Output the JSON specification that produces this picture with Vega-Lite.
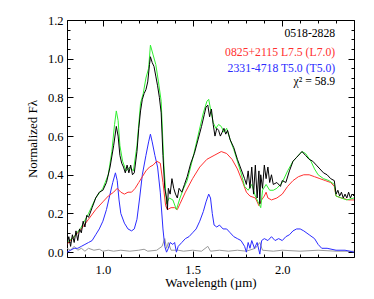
{
"$schema":"https://vega.github.io/schema/vega-lite/v6.json",
"width":287,"height":237,
"autosize":"none",
"padding":{"left":67,"top":20,"right":20,"bottom":42},
"config":{"view":{"stroke":"#000","strokeWidth":1},"font":"Liberation Serif"},
"datasets":{
"noise":[{"w":0.80,"f":0.02},{"w":0.82,"f":0.01},{"w":0.84,"f":0.03},{"w":0.86,"f":0.01},{"w":0.88,"f":0.02},{"w":0.90,"f":0.005},{"w":0.92,"f":0.02},{"w":0.95,"f":0.01},{"w":0.98,"f":0.015},{"w":1.00,"f":0.005},{"w":1.03,"f":0.01},{"w":1.06,"f":0.005},{"w":1.10,"f":0.01},{"w":1.15,"f":0.005},{"w":1.20,"f":0.01},{"w":1.23,"f":0.015},{"w":1.25,"f":0.005},{"w":1.30,"f":0.01},{"w":1.33,"f":0.03},{"w":1.345,"f":0.07},{"w":1.355,"f":0.02},{"w":1.365,"f":0.05},{"w":1.38,"f":0.01},{"w":1.42,"f":0.01},{"w":1.45,"f":0.005},{"w":1.50,"f":0.01},{"w":1.55,"f":0.005},{"w":1.585,"f":0.03},{"w":1.60,"f":0.005},{"w":1.65,"f":0.01},{"w":1.70,"f":0.005},{"w":1.75,"f":0.01},{"w":1.80,"f":0.005},{"w":1.85,"f":0.02},{"w":1.875,"f":0.05},{"w":1.89,"f":0.01},{"w":1.95,"f":0.005},{"w":2.00,"f":0.01},{"w":2.10,"f":0.005},{"w":2.20,"f":0.01},{"w":2.30,"f":0.005},{"w":2.40,"f":0.005}],
"spec":[
{"s":"b","w":0.80,"f":0.00},{"s":"b","w":0.82,"f":0.01},{"s":"b","w":0.84,"f":0.02},{"s":"b","w":0.86,"f":0.02},{"s":"b","w":0.88,"f":0.03},{"s":"b","w":0.90,"f":0.04},{"s":"b","w":0.92,"f":0.05},{"s":"b","w":0.94,"f":0.06},{"s":"b","w":0.96,"f":0.09},{"s":"b","w":0.98,"f":0.12},{"s":"b","w":1.00,"f":0.16},{"s":"b","w":1.02,"f":0.22},{"s":"b","w":1.04,"f":0.30},{"s":"b","w":1.055,"f":0.36},{"s":"b","w":1.07,"f":0.41},{"s":"b","w":1.08,"f":0.37},{"s":"b","w":1.09,"f":0.27},{"s":"b","w":1.10,"f":0.20},{"s":"b","w":1.12,"f":0.15},{"s":"b","w":1.14,"f":0.12},{"s":"b","w":1.16,"f":0.11},{"s":"b","w":1.175,"f":0.12},{"s":"b","w":1.19,"f":0.17},{"s":"b","w":1.205,"f":0.28},{"s":"b","w":1.22,"f":0.40},{"s":"b","w":1.24,"f":0.50},{"s":"b","w":1.255,"f":0.57},{"s":"b","w":1.265,"f":0.61},{"s":"b","w":1.275,"f":0.57},{"s":"b","w":1.29,"f":0.50},{"s":"b","w":1.305,"f":0.44},{"s":"b","w":1.32,"f":0.31},{"s":"b","w":1.335,"f":0.12},{"s":"b","w":1.345,"f":0.03},{"s":"b","w":1.355,"f":0.00},{"s":"b","w":1.365,"f":0.02},{"s":"b","w":1.375,"f":0.05},{"s":"b","w":1.39,"f":0.04},{"s":"b","w":1.40,"f":0.05},{"s":"b","w":1.41,"f":0.00},{"s":"b","w":1.42,"f":0.03},{"s":"b","w":1.44,"f":0.05},{"s":"b","w":1.46,"f":0.07},{"s":"b","w":1.48,"f":0.08},{"s":"b","w":1.50,"f":0.10},{"s":"b","w":1.52,"f":0.12},{"s":"b","w":1.54,"f":0.16},{"s":"b","w":1.56,"f":0.21},{"s":"b","w":1.575,"f":0.26},{"s":"b","w":1.59,"f":0.30},{"s":"b","w":1.60,"f":0.28},{"s":"b","w":1.61,"f":0.20},{"s":"b","w":1.62,"f":0.14},{"s":"b","w":1.635,"f":0.13},{"s":"b","w":1.65,"f":0.14},{"s":"b","w":1.67,"f":0.12},{"s":"b","w":1.69,"f":0.12},{"s":"b","w":1.71,"f":0.10},{"s":"b","w":1.73,"f":0.08},{"s":"b","w":1.75,"f":0.07},{"s":"b","w":1.77,"f":0.06},{"s":"b","w":1.79,"f":0.03},{"s":"b","w":1.80,"f":0.00},{"s":"b","w":1.81,"f":0.05},{"s":"b","w":1.82,"f":0.02},{"s":"b","w":1.83,"f":0.06},{"s":"b","w":1.845,"f":0.02},{"s":"b","w":1.86,"f":0.05},{"s":"b","w":1.875,"f":-0.01},{"s":"b","w":1.885,"f":0.06},{"s":"b","w":1.90,"f":0.07},{"s":"b","w":1.92,"f":0.06},{"s":"b","w":1.94,"f":0.08},{"s":"b","w":1.96,"f":0.06},{"s":"b","w":1.98,"f":0.07},{"s":"b","w":2.00,"f":0.06},{"s":"b","w":2.02,"f":0.08},{"s":"b","w":2.04,"f":0.09},{"s":"b","w":2.06,"f":0.11},{"s":"b","w":2.08,"f":0.12},{"s":"b","w":2.10,"f":0.12},{"s":"b","w":2.12,"f":0.11},{"s":"b","w":2.15,"f":0.09},{"s":"b","w":2.18,"f":0.07},{"s":"b","w":2.20,"f":0.04},{"s":"b","w":2.22,"f":0.02},{"s":"b","w":2.25,"f":0.02},{"s":"b","w":2.30,"f":0.01},{"s":"b","w":2.35,"f":0.01},{"s":"b","w":2.40,"f":0.00},
{"s":"r","w":0.80,"f":0.04},{"s":"r","w":0.84,"f":0.08},{"s":"r","w":0.88,"f":0.12},{"s":"r","w":0.92,"f":0.17},{"s":"r","w":0.96,"f":0.22},{"s":"r","w":1.00,"f":0.26},{"s":"r","w":1.03,"f":0.29},{"s":"r","w":1.06,"f":0.31},{"s":"r","w":1.08,"f":0.33},{"s":"r","w":1.10,"f":0.31},{"s":"r","w":1.12,"f":0.30},{"s":"r","w":1.14,"f":0.31},{"s":"r","w":1.16,"f":0.31},{"s":"r","w":1.18,"f":0.33},{"s":"r","w":1.20,"f":0.36},{"s":"r","w":1.22,"f":0.39},{"s":"r","w":1.24,"f":0.42},{"s":"r","w":1.26,"f":0.44},{"s":"r","w":1.28,"f":0.45},{"s":"r","w":1.30,"f":0.47},{"s":"r","w":1.32,"f":0.46},{"s":"r","w":1.335,"f":0.36},{"s":"r","w":1.35,"f":0.24},{"s":"r","w":1.36,"f":0.22},{"s":"r","w":1.38,"f":0.23},{"s":"r","w":1.40,"f":0.23},{"s":"r","w":1.415,"f":0.22},{"s":"r","w":1.43,"f":0.25},{"s":"r","w":1.46,"f":0.31},{"s":"r","w":1.50,"f":0.38},{"s":"r","w":1.54,"f":0.44},{"s":"r","w":1.58,"f":0.48},{"s":"r","w":1.62,"f":0.50},{"s":"r","w":1.66,"f":0.52},{"s":"r","w":1.69,"f":0.51},{"s":"r","w":1.72,"f":0.48},{"s":"r","w":1.75,"f":0.43},{"s":"r","w":1.78,"f":0.36},{"s":"r","w":1.80,"f":0.31},{"s":"r","w":1.82,"f":0.29},{"s":"r","w":1.85,"f":0.28},{"s":"r","w":1.87,"f":0.24},{"s":"r","w":1.885,"f":0.27},{"s":"r","w":1.90,"f":0.29},{"s":"r","w":1.91,"f":0.31},{"s":"r","w":1.92,"f":0.28},{"s":"r","w":1.94,"f":0.27},{"s":"r","w":1.97,"f":0.28},{"s":"r","w":2.00,"f":0.30},{"s":"r","w":2.03,"f":0.34},{"s":"r","w":2.06,"f":0.37},{"s":"r","w":2.09,"f":0.39},{"s":"r","w":2.12,"f":0.40},{"s":"r","w":2.15,"f":0.40},{"s":"r","w":2.18,"f":0.39},{"s":"r","w":2.21,"f":0.38},{"s":"r","w":2.24,"f":0.37},{"s":"r","w":2.27,"f":0.36},{"s":"r","w":2.29,"f":0.34},{"s":"r","w":2.30,"f":0.29},{"s":"r","w":2.33,"f":0.28},{"s":"r","w":2.37,"f":0.27},{"s":"r","w":2.40,"f":0.27},
{"s":"g","w":0.80,"f":0.05},{"s":"g","w":0.84,"f":0.08},{"s":"g","w":0.88,"f":0.13},{"s":"g","w":0.92,"f":0.20},{"s":"g","w":0.96,"f":0.28},{"s":"g","w":1.00,"f":0.33},{"s":"g","w":1.03,"f":0.40},{"s":"g","w":1.05,"f":0.52},{"s":"g","w":1.065,"f":0.66},{"s":"g","w":1.075,"f":0.73},{"s":"g","w":1.085,"f":0.68},{"s":"g","w":1.095,"f":0.55},{"s":"g","w":1.11,"f":0.47},{"s":"g","w":1.13,"f":0.42},{"s":"g","w":1.15,"f":0.44},{"s":"g","w":1.17,"f":0.42},{"s":"g","w":1.19,"f":0.55},{"s":"g","w":1.21,"f":0.77},{"s":"g","w":1.225,"f":0.82},{"s":"g","w":1.24,"f":0.90},{"s":"g","w":1.255,"f":0.95},{"s":"g","w":1.265,"f":1.07},{"s":"g","w":1.28,"f":1.02},{"s":"g","w":1.295,"f":0.97},{"s":"g","w":1.31,"f":0.88},{"s":"g","w":1.325,"f":0.78},{"s":"g","w":1.34,"f":0.45},{"s":"g","w":1.355,"f":0.25},{"s":"g","w":1.37,"f":0.28},{"s":"g","w":1.39,"f":0.27},{"s":"g","w":1.41,"f":0.22},{"s":"g","w":1.43,"f":0.28},{"s":"g","w":1.45,"f":0.33},{"s":"g","w":1.47,"f":0.37},{"s":"g","w":1.50,"f":0.48},{"s":"g","w":1.53,"f":0.60},{"s":"g","w":1.56,"f":0.72},{"s":"g","w":1.58,"f":0.78},{"s":"g","w":1.59,"f":0.79},{"s":"g","w":1.60,"f":0.74},{"s":"g","w":1.615,"f":0.67},{"s":"g","w":1.63,"f":0.64},{"s":"g","w":1.645,"f":0.66},{"s":"g","w":1.66,"f":0.65},{"s":"g","w":1.675,"f":0.62},{"s":"g","w":1.69,"f":0.64},{"s":"g","w":1.71,"f":0.58},{"s":"g","w":1.73,"f":0.53},{"s":"g","w":1.75,"f":0.47},{"s":"g","w":1.77,"f":0.41},{"s":"g","w":1.79,"f":0.34},{"s":"g","w":1.81,"f":0.32},{"s":"g","w":1.83,"f":0.35},{"s":"g","w":1.85,"f":0.29},{"s":"g","w":1.87,"f":0.25},{"s":"g","w":1.88,"f":0.23},{"s":"g","w":1.89,"f":0.32},{"s":"g","w":1.91,"f":0.35},{"s":"g","w":1.93,"f":0.32},{"s":"g","w":1.95,"f":0.32},{"s":"g","w":1.97,"f":0.33},{"s":"g","w":2.00,"f":0.36},{"s":"g","w":2.03,"f":0.42},{"s":"g","w":2.06,"f":0.47},{"s":"g","w":2.09,"f":0.50},{"s":"g","w":2.11,"f":0.52},{"s":"g","w":2.13,"f":0.51},{"s":"g","w":2.16,"f":0.47},{"s":"g","w":2.18,"f":0.43},{"s":"g","w":2.20,"f":0.40},{"s":"g","w":2.23,"f":0.38},{"s":"g","w":2.26,"f":0.37},{"s":"g","w":2.29,"f":0.35},{"s":"g","w":2.30,"f":0.29},{"s":"g","w":2.33,"f":0.28},{"s":"g","w":2.36,"f":0.27},{"s":"g","w":2.40,"f":0.28},
{"s":"k","w":0.80,"f":0.04},{"s":"k","w":0.81,"f":0.08},{"s":"k","w":0.82,"f":0.03},{"s":"k","w":0.83,"f":0.09},{"s":"k","w":0.84,"f":0.05},{"s":"k","w":0.85,"f":0.11},{"s":"k","w":0.86,"f":0.06},{"s":"k","w":0.87,"f":0.12},{"s":"k","w":0.88,"f":0.10},{"s":"k","w":0.89,"f":0.16},{"s":"k","w":0.90,"f":0.13},{"s":"k","w":0.91,"f":0.19},{"s":"k","w":0.92,"f":0.18},{"s":"k","w":0.94,"f":0.23},{"s":"k","w":0.96,"f":0.28},{"s":"k","w":0.98,"f":0.31},{"s":"k","w":1.00,"f":0.32},{"s":"k","w":1.02,"f":0.36},{"s":"k","w":1.04,"f":0.44},{"s":"k","w":1.06,"f":0.55},{"s":"k","w":1.075,"f":0.65},{"s":"k","w":1.085,"f":0.60},{"s":"k","w":1.095,"f":0.50},{"s":"k","w":1.105,"f":0.46},{"s":"k","w":1.115,"f":0.44},{"s":"k","w":1.125,"f":0.41},{"s":"k","w":1.135,"f":0.45},{"s":"k","w":1.145,"f":0.41},{"s":"k","w":1.155,"f":0.45},{"s":"k","w":1.165,"f":0.40},{"s":"k","w":1.175,"f":0.41},{"s":"k","w":1.19,"f":0.52},{"s":"k","w":1.20,"f":0.64},{"s":"k","w":1.21,"f":0.73},{"s":"k","w":1.22,"f":0.79},{"s":"k","w":1.23,"f":0.82},{"s":"k","w":1.24,"f":0.84},{"s":"k","w":1.25,"f":0.88},{"s":"k","w":1.26,"f":0.97},{"s":"k","w":1.265,"f":1.01},{"s":"k","w":1.275,"f":0.98},{"s":"k","w":1.285,"f":0.96},{"s":"k","w":1.295,"f":0.91},{"s":"k","w":1.305,"f":0.86},{"s":"k","w":1.315,"f":0.80},{"s":"k","w":1.325,"f":0.72},{"s":"k","w":1.335,"f":0.50},{"s":"k","w":1.345,"f":0.33},{"s":"k","w":1.355,"f":0.28},{"s":"k","w":1.36,"f":0.22},{"s":"k","w":1.365,"f":0.33},{"s":"k","w":1.375,"f":0.30},{"s":"k","w":1.385,"f":0.38},{"s":"k","w":1.395,"f":0.33},{"s":"k","w":1.405,"f":0.30},{"s":"k","w":1.415,"f":0.28},{"s":"k","w":1.425,"f":0.33},{"s":"k","w":1.44,"f":0.31},{"s":"k","w":1.455,"f":0.35},{"s":"k","w":1.47,"f":0.39},{"s":"k","w":1.49,"f":0.46},{"s":"k","w":1.51,"f":0.51},{"s":"k","w":1.53,"f":0.58},{"s":"k","w":1.55,"f":0.65},{"s":"k","w":1.565,"f":0.71},{"s":"k","w":1.575,"f":0.75},{"s":"k","w":1.585,"f":0.76},{"s":"k","w":1.595,"f":0.70},{"s":"k","w":1.605,"f":0.74},{"s":"k","w":1.615,"f":0.66},{"s":"k","w":1.625,"f":0.60},{"s":"k","w":1.635,"f":0.64},{"s":"k","w":1.645,"f":0.63},{"s":"k","w":1.655,"f":0.60},{"s":"k","w":1.665,"f":0.62},{"s":"k","w":1.675,"f":0.64},{"s":"k","w":1.685,"f":0.61},{"s":"k","w":1.695,"f":0.63},{"s":"k","w":1.71,"f":0.58},{"s":"k","w":1.73,"f":0.54},{"s":"k","w":1.75,"f":0.48},{"s":"k","w":1.77,"f":0.43},{"s":"k","w":1.79,"f":0.38},{"s":"k","w":1.80,"f":0.35},{"s":"k","w":1.81,"f":0.42},{"s":"k","w":1.82,"f":0.33},{"s":"k","w":1.83,"f":0.44},{"s":"k","w":1.84,"f":0.30},{"s":"k","w":1.85,"f":0.45},{"s":"k","w":1.86,"f":0.28},{"s":"k","w":1.87,"f":0.42},{"s":"k","w":1.875,"f":0.25},{"s":"k","w":1.88,"f":0.40},{"s":"k","w":1.89,"f":0.33},{"s":"k","w":1.90,"f":0.45},{"s":"k","w":1.91,"f":0.38},{"s":"k","w":1.92,"f":0.44},{"s":"k","w":1.93,"f":0.36},{"s":"k","w":1.94,"f":0.40},{"s":"k","w":1.95,"f":0.35},{"s":"k","w":1.97,"f":0.36},{"s":"k","w":1.99,"f":0.34},{"s":"k","w":2.00,"f":0.37},{"s":"k","w":2.02,"f":0.36},{"s":"k","w":2.04,"f":0.42},{"s":"k","w":2.06,"f":0.47},{"s":"k","w":2.08,"f":0.49},{"s":"k","w":2.10,"f":0.51},{"s":"k","w":2.11,"f":0.52},{"s":"k","w":2.13,"f":0.50},{"s":"k","w":2.15,"f":0.48},{"s":"k","w":2.17,"f":0.47},{"s":"k","w":2.19,"f":0.45},{"s":"k","w":2.21,"f":0.43},{"s":"k","w":2.23,"f":0.41},{"s":"k","w":2.25,"f":0.40},{"s":"k","w":2.27,"f":0.38},{"s":"k","w":2.29,"f":0.37},{"s":"k","w":2.30,"f":0.30},{"s":"k","w":2.31,"f":0.32},{"s":"k","w":2.32,"f":0.29},{"s":"k","w":2.33,"f":0.31},{"s":"k","w":2.34,"f":0.28},{"s":"k","w":2.35,"f":0.30},{"s":"k","w":2.36,"f":0.28},{"s":"k","w":2.37,"f":0.31},{"s":"k","w":2.38,"f":0.28},{"s":"k","w":2.39,"f":0.30},{"s":"k","w":2.40,"f":0.29}
]},
"resolve":{"axis":{"x":"independent","y":"independent"}},
"layer":[
{"data":{"name":"noise"},"mark":{"type":"line","color":"#9a9a9a","strokeWidth":1,"clip":true},
"encoding":{
"x":{"field":"w","type":"quantitative","scale":{"domain":[0.8,2.4],"nice":false,"zero":false},
"axis":{"orient":"top","values":[0.8,0.9,1.0,1.1,1.2,1.3,1.4,1.5,1.6,1.7,1.8,1.9,2.0,2.1,2.2,2.3,2.4],"labels":false,"ticks":false,"domain":false,"title":null,"grid":true,"gridColor":"#000","gridOpacity":1,"gridWidth":1,
"gridDash":{"condition":{"test":"indexof(['1.0','1.5','2.0'], format(datum.value,'.1f')) >= 0","value":[6,1000]},"value":[3,1000]}}},
"y":{"field":"f","type":"quantitative","scale":{"domain":[-0.025,1.2],"nice":false,"zero":false},
"axis":{"orient":"right","values":[0,0.05,0.1,0.15,0.2,0.25,0.3,0.35,0.4,0.45,0.5,0.55,0.6,0.65,0.7,0.75,0.8,0.85,0.9,0.95,1.0,1.05,1.1,1.15,1.2],"labels":false,"ticks":false,"domain":false,"title":null,"grid":true,"gridColor":"#000","gridOpacity":1,"gridWidth":1,
"gridDash":{"condition":{"test":"indexof(['0.00','0.20','0.40','0.60','0.80','1.00','1.20'], format(datum.value,'.2f')) >= 0","value":[6,1000]},"value":[3,1000]}}}}},
{"data":{"name":"spec"},"mark":{"type":"line","strokeWidth":1,"clip":true},
"encoding":{
"x":{"field":"w","type":"quantitative",
"axis":{"orient":"bottom","values":[0.8,0.9,1.0,1.1,1.2,1.3,1.4,1.5,1.6,1.7,1.8,1.9,2.0,2.1,2.2,2.3,2.4],"format":".1f","labelExpr":"indexof(['1.0','1.5','2.0'], datum.label) >= 0 ? datum.label : ''","ticks":false,"domain":false,"grid":true,"gridColor":"#000","gridOpacity":1,"gridWidth":1,
"gridDash":{"condition":{"test":"indexof(['1.0','1.5','2.0'], format(datum.value,'.1f')) >= 0","value":[6,1000]},"value":[3,1000]},
"labelFont":"Liberation Serif","labelFontSize":12.5,"labelColor":"#000","labelPadding":6,"labelFlush":false,
"title":"Wavelength (µm)","titleFont":"Liberation Serif","titleFontSize":13,"titleFontWeight":"normal","titleColor":"#000","titlePadding":1}},
"y":{"field":"f","type":"quantitative",
"axis":{"orient":"left","values":[0,0.05,0.1,0.15,0.2,0.25,0.3,0.35,0.4,0.45,0.5,0.55,0.6,0.65,0.7,0.75,0.8,0.85,0.9,0.95,1.0,1.05,1.1,1.15,1.2],"format":".2f","labelExpr":"indexof(['0.00','0.20','0.40','0.60','0.80','1.00','1.20'], datum.label) >= 0 ? format(datum.value,'.1f') : ''","ticks":false,"domain":false,"grid":true,"gridColor":"#000","gridOpacity":1,"gridWidth":1,
"gridDash":{"condition":{"test":"indexof(['0.00','0.20','0.40','0.60','0.80','1.00','1.20'], format(datum.value,'.2f')) >= 0","value":[6,1000]},"value":[3,1000]},
"labelFont":"Liberation Serif","labelFontSize":12.5,"labelColor":"#000","labelPadding":4,"labelFlush":false,
"title":"Normalized Fλ","titleFont":"Liberation Serif","titleFontSize":13,"titleFontWeight":"normal","titleColor":"#000","titlePadding":8}},
"color":{"field":"s","type":"nominal","scale":{"domain":["b","r","g","k"],"range":["#2b2bff","#ff3030","#30f030","#000000"]},"legend":null}}},
{"data":{"values":[{"t":"0518-2828","c":"k","yy":1.131},{"t":"0825+2115 L7.5 (L7.0)","c":"r","yy":1.037},{"t":"2331-4718 T5.0 (T5.0)","c":"b","yy":0.954},{"t":"χ² = 58.9","c":"k","yy":0.885}]},
"mark":{"type":"text","align":"right","baseline":"middle","font":"Liberation Serif","fontSize":11.7},
"encoding":{"x":{"datum":2.295,"type":"quantitative","axis":null},"y":{"field":"yy","type":"quantitative","axis":null},"text":{"field":"t"},
"color":{"field":"c","type":"nominal","scale":{"domain":["k","r","b"],"range":["#000000","#ff3030","#2b2bff"]},"legend":null}}}
]
}
